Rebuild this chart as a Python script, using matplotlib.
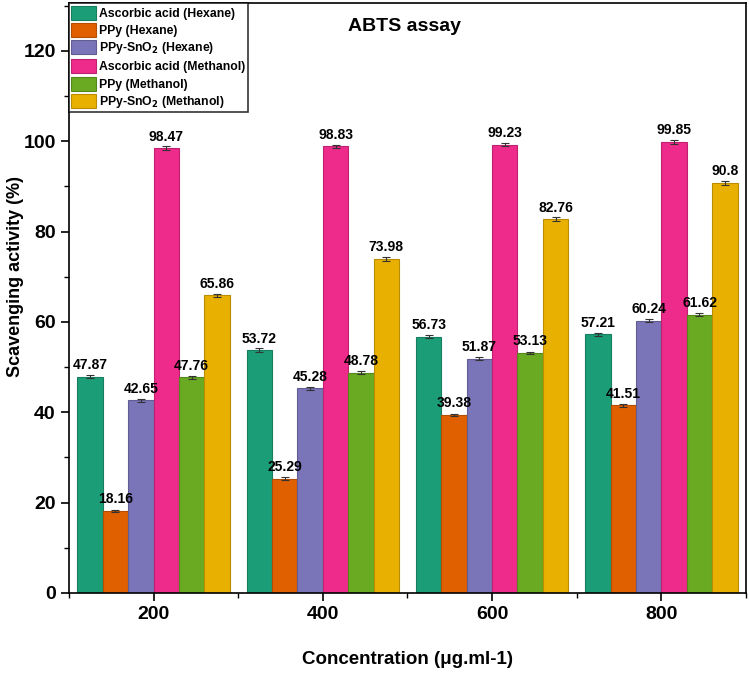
import numpy as np
import matplotlib.pyplot as plt
from matplotlib.ticker import MultipleLocator
from matplotlib.colors import to_rgb

plt.rcParams['font.family'] = ['Liberation Sans', 'DejaVu Sans']
plt.rcParams['font.weight'] = 'bold'

concentrations = [200, 400, 600, 800]
series_names = [
    "Ascorbic acid (Hexane)",
    "PPy (Hexane)",
    "PPy-SnO$_2$ (Hexane)",
    "Ascorbic acid (Methanol)",
    "PPy (Methanol)",
    "PPy-SnO$_2$ (Methanol)",
]
ascorbic_hexane = [47.87, 53.72, 56.73, 57.21]
ppy_hexane = [18.16, 25.29, 39.38, 41.51]
ppy_sno2_hexane = [42.65, 45.28, 51.87, 60.24]
ascorbic_methanol = [98.47, 98.83, 99.23, 99.85]
ppy_methanol = [47.76, 48.78, 53.13, 61.62]
ppy_sno2_methanol = [65.86, 73.98, 82.76, 90.8]
value_labels = [
    ["47.87", "53.72", "56.73", "57.21"],
    ["18.16", "25.29", "39.38", "41.51"],
    ["42.65", "45.28", "51.87", "60.24"],
    ["98.47", "98.83", "99.23", "99.85"],
    ["47.76", "48.78", "53.13", "61.62"],
    ["65.86", "73.98", "82.76", "90.8"],
]
errors = [0.4, 0.3, 0.3, 0.4, 0.3, 0.4]

colors = ["#1b9e77", "#e06000", "#7a74b8", "#ee2a8a", "#6aaa22", "#e8b000"]

series = [ascorbic_hexane, ppy_hexane, ppy_sno2_hexane,
          ascorbic_methanol, ppy_methanol, ppy_sno2_methanol]

fig = plt.figure(figsize=(7.49, 6.73), dpi=100)
ax = fig.add_axes([0.092, 0.119, 0.904, 0.876])

x = np.array(concentrations, dtype=float)
width = 30
for i, (vals, name, col, labs, err) in enumerate(zip(series, series_names, colors, value_labels, errors)):
    edge = tuple(c * 0.8 for c in to_rgb(col))
    pos = x + (i - 2.5) * width
    ax.bar(pos, vals, width, color=col, edgecolor=edge, linewidth=0.8, label=name,
           yerr=err, capsize=3, error_kw=dict(ecolor="#333333", elinewidth=0.8, capthick=0.8))
    for p, v, t in zip(pos, vals, labs):
        ax.text(p, v + 1.0, t, ha="center", va="bottom", fontsize=10, fontweight="bold")

ax.set_xlim(100, 900)
ax.set_ylim(0, 130.5)
ax.set_xticks(concentrations)
ax.xaxis.set_minor_locator(MultipleLocator(100))
ax.yaxis.set_major_locator(MultipleLocator(20))
ax.yaxis.set_minor_locator(MultipleLocator(10))
ax.tick_params(axis="both", which="major", labelsize=14, length=6, width=1.2)
ax.tick_params(axis="both", which="minor", length=3.5, width=1.0)
for lbl in ax.get_xticklabels() + ax.get_yticklabels():
    lbl.set_fontweight("bold")
for s in ax.spines.values():
    s.set_linewidth(1.2)

ax.set_xlabel("Concentration (μg.ml-1)", fontsize=13.5, fontweight="bold", labelpad=20)
ax.set_ylabel("Scavenging activity (%)", fontsize=13, fontweight="bold")
ax.yaxis.set_label_coords(-0.066, 0.536)
ax.text(0.496, 0.975, "ABTS assay", transform=ax.transAxes, ha="center", va="top",
        fontsize=14, fontweight="bold")

leg = ax.legend(loc="upper left", bbox_to_anchor=(0, 1), fontsize=8.8, frameon=True,
                fancybox=False, edgecolor="black", borderaxespad=0, handlelength=2.0,
                handleheight=1.4, labelspacing=0.25, borderpad=0.2, handletextpad=0.3)
leg.get_frame().set_linewidth(1.2)
for t in leg.get_texts():
    t.set_fontweight("bold")

fig.savefig("out.png", dpi=100)
